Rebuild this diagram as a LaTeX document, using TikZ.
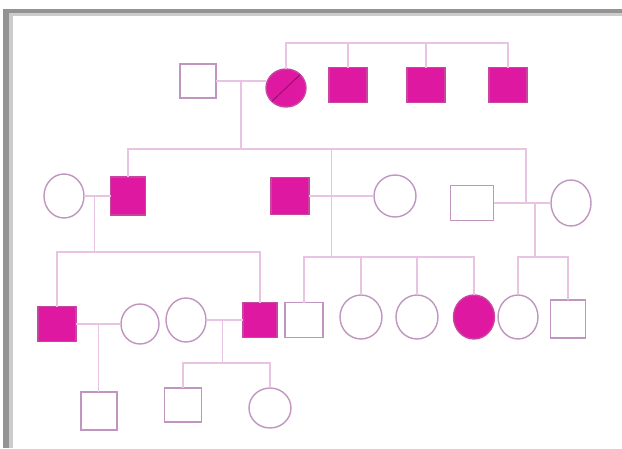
\documentclass[tikz,border=0pt]{standalone}
\usetikzlibrary{positioning, shapes.geometric, calc}
\definecolor{affected}{RGB}{222,24,160}
\definecolor{affline}{RGB}{200,70,160}
\definecolor{affdark}{RGB}{130,20,95}
\definecolor{outline}{RGB}{192,150,192}
\definecolor{kin}{RGB}{232,196,226}

\begin{document}
\begin{tikzpicture}[x=1pt, y=-1pt,
    male/.style={draw=outline, line width=1.4pt, fill=white, rectangle, inner sep=0pt, outer sep=0pt, minimum width=36pt, minimum height=35pt},
    female/.style={draw=outline, line width=1.4pt, fill=white, ellipse, inner sep=0pt, outer sep=0pt, minimum width=40pt, minimum height=43pt},
    aff/.style={fill=affected, draw=affline},
    kinline/.style={draw=kin, line width=1.2pt},
    slash/.style={draw=affdark, line width=0.8pt}]
  \useasboundingbox (0,0) rectangle (622,448);
  % frame
  \fill[gray!85] (3,9) rectangle (622,13);
  \fill[gray!85] (3,9) rectangle (9,448);
  \fill[gray!40] (9,13) rectangle (622,16);
  \fill[gray!40] (9,13) rectangle (13,448);

  % generation I
  \node[male, minimum height=34pt] (I1) at (198,81) {};
  \node[female, aff, minimum height=38pt] (I2) at (286,88) {};
  \node[male, aff, minimum width=38pt] (I3) at (348,85) {};
  \node[male, aff, minimum width=38pt] (I4) at (426,85) {};
  \node[male, aff, minimum width=38pt] (I5) at (508,85) {};
  \draw[slash] (I2.south west) -- (I2.north east);

  % generation II
  \node[female, minimum height=44pt] (II1) at (64,196) {};
  \node[male, aff, minimum width=35pt, minimum height=38pt] (II2) at (128,196) {};
  \node[male, aff, minimum width=38pt, minimum height=37pt] (II3) at (290,196) {};
  \node[female, minimum width=42pt, minimum height=42pt] (II4) at (395,196) {};
  \node[male, minimum width=43pt] (II5) at (472,203) {};
  \node[female, minimum height=46pt] (II6) at (571,203) {};

  % generation III
  \node[male, aff, minimum width=38pt] (III1) at (57,324) {};
  \node[female, minimum width=38pt, minimum height=40pt] (III2) at (140,324) {};
  \node[female, minimum height=44pt] (III3) at (186,320) {};
  \node[male, aff, minimum width=34pt] (III4) at (260,320) {};
  \node[male, minimum width=38pt] (III5) at (304,320) {};
  \node[female, minimum width=42pt, minimum height=44pt] (III6) at (361,317) {};
  \node[female, minimum width=42pt, minimum height=44pt] (III7) at (417,317) {};
  \node[female, aff, minimum width=41pt, minimum height=44pt] (III8) at (474,317) {};
  \node[female, minimum height=44pt] (III9) at (518,317) {};
  \node[male, minimum width=35pt, minimum height=38pt] (III10) at (568,319) {};

  % generation IV
  \node[male, minimum height=38pt] (IV1) at (99,411) {};
  \node[male, minimum width=37pt, minimum height=34pt] (IV2) at (183,405) {};
  \node[female, minimum width=42pt, minimum height=40pt] (IV3) at (270,408) {};

  % sibship levels
  \coordinate (sibI) at (0,43);
  \coordinate (sibII) at (0,149);
  \coordinate (sibIIIa) at (0,252);
  \coordinate (sibIIIb) at (0,257);
  \coordinate (sibIV) at (0,363);

  % lines of generation I
  \draw[kinline] (I2.north) -- (I2.north |- sibI) -| (I5.north);
  \foreach \n in {I3,I4}
    \draw[kinline] (\n.north) -- (\n.north |- sibI);
  \draw[kinline] (I1.east) -- (I1.east -| I2.west) coordinate (I2m);
  \coordinate (mI) at ($(I1.east)!0.5!(I2m)$);
  \draw[kinline] (mI) -- (mI |- sibII);

  % lines of generation II
  \coordinate (sibIIr) at (526,149);
  \draw[kinline] (II2.north) |- (sibIIr) -- (sibIIr |- II5.east);
  \draw[kinline] (II1.east) -- (II2.west);
  \draw[kinline] (II3.east) -- (II4.west);
  \draw[kinline] (II5.east) -- (II6.west);
  \coordinate (mII1) at ($(II1.east)!0.4!(II2.west)$);
  \coordinate (mII2) at ($(II3.east)!0.34!(II4.west)$);
  \coordinate (mII3) at ($(II5.east)!0.72!(II6.west)$);
  \draw[kinline] (mII1) -- (mII1 |- sibIIIa);
  \draw[kinline] (mII2 |- sibII) -- (mII2 |- sibIIIb);
  \draw[kinline] (mII3) -- (mII3 |- sibIIIb);

  % lines of generation III
  \draw[kinline] (III1.north) -- (III1.north |- sibIIIa) -| (III4.north);
  \draw[kinline] (III5.north) -- (III5.north |- sibIIIb) -| (III8.north);
  \foreach \n in {III6,III7}
    \draw[kinline] (\n.north) -- (\n.north |- sibIIIb);
  \draw[kinline] (III9.north) -- (III9.north |- sibIIIb) -| (III10.north);
  \draw[kinline] (III1.east) -- (III2.west);
  \draw[kinline] (III3.east) -- (III4.west);
  \coordinate (mIII1) at ($(III1.east)!0.5!(III2.west)$);
  \coordinate (mIII2) at ($(III3.east)!0.45!(III4.west)$);
  \draw[kinline] (mIII1) -- (mIII1 |- IV1.north);
  \draw[kinline] (mIII2) -- (mIII2 |- sibIV);
  \draw[kinline] (IV2.north) -- (IV2.north |- sibIV) -| (IV3.north);
\end{tikzpicture}
\end{document}
